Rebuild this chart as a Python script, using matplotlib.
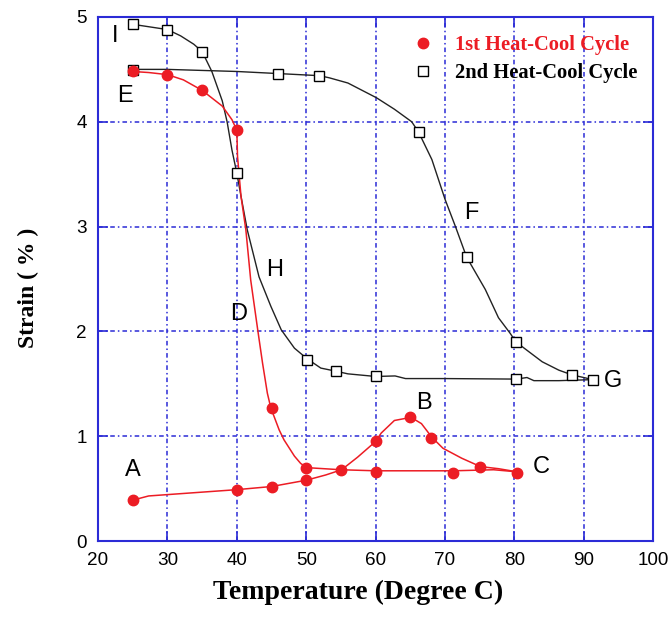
import matplotlib
matplotlib.use("Agg")
import matplotlib.pyplot as plt
from matplotlib.lines import Line2D

# ── data ──────────────────────────────────────────────────────────────────────
# 1st heat-cool cycle, measured points
heat1_T = [25, 40, 45, 50, 55, 60, 65, 68, 75, 80.4]
heat1_S = [0.39, 0.49, 0.52, 0.58, 0.68, 0.95, 1.18, 0.98, 0.71, 0.65]
cool1_T = [71.2, 60, 50, 45, 40, 35, 30, 25]
cool1_S = [0.65, 0.66, 0.70, 1.27, 3.92, 4.30, 4.45, 4.48]

# 1st cycle curve traces
heat1_curve_T = [25, 27.3, 40, 45, 50, 52.8, 55.1, 57.4, 60, 60.8, 62.7, 65.1,
                 66.6, 68.1, 69.7, 72.4, 75.1, 77.7, 80.4]
heat1_curve_S = [0.39, 0.43, 0.49, 0.52, 0.58, 0.63, 0.68, 0.80, 0.95, 1.03,
                 1.15, 1.18, 1.12, 0.99, 0.885, 0.79, 0.71, 0.69, 0.66]
cool1_curve_T = [80.4, 77, 71.2, 65, 60, 55, 50.1, 49.2, 48.3, 46.8, 46.1, 44.9,
                 44.4, 43.7, 43.0, 42.0, 41.3, 40.6, 40.1, 40.0, 39.3, 37.9,
                 35.0, 32.3, 30.0, 27.3, 25]
cool1_curve_S = [0.66, 0.68, 0.67, 0.67, 0.67, 0.68, 0.70, 0.74, 0.81, 0.965,
                 1.06, 1.27, 1.41, 1.70, 2.02, 2.49, 2.97, 3.29, 3.67, 3.92,
                 4.02, 4.15, 4.30, 4.40, 4.45, 4.47, 4.48]

# 2nd heat-cool cycle, measured points
heat2_T = [25, 46, 51.9, 66.2, 73.1, 80.2, 88.3, 91.3]
heat2_S = [4.49, 4.46, 4.44, 3.90, 2.71, 1.90, 1.585, 1.54]
cool2_T = [80.2, 60, 54.3, 50.1, 40, 35, 30, 25]
cool2_S = [1.545, 1.57, 1.62, 1.73, 3.51, 4.67, 4.88, 4.93]

# 2nd cycle curve traces
heat2_curve_T = [25, 30, 40, 46, 51.9, 53.3, 56.0, 60.1, 62.7, 65.2, 66.2, 68.1,
                 70.0, 71.5, 73.1, 75.8, 77.7, 79.4, 80.2, 84.0, 86.4, 88.3, 91.3]
heat2_curve_S = [4.50, 4.50, 4.48, 4.46, 4.44, 4.42, 4.37, 4.23, 4.12, 4.00,
                 3.90, 3.64, 3.26, 3.00, 2.71, 2.40, 2.13, 1.98, 1.90, 1.71,
                 1.63, 1.585, 1.54]
cool2_curve_T = [91.3, 86.4, 82.8, 81.8, 80.8, 80.2, 70, 64.3, 62.8, 60, 56.0,
                 54.3, 52.1, 50.1, 48.3, 46.4, 44.9, 43.2, 41.5, 40.6, 40.0,
                 39.3, 38.6, 37.9, 36.4, 35.0, 33.8, 31.9, 30.0, 25]
cool2_curve_S = [1.54, 1.53, 1.53, 1.56, 1.55, 1.545, 1.55, 1.55, 1.575, 1.57,
                 1.595, 1.62, 1.65, 1.74, 1.84, 2.015, 2.24, 2.52, 2.97, 3.29,
                 3.51, 3.73, 4.00, 4.20, 4.48, 4.67, 4.74, 4.82, 4.88, 4.93]

# point labels
lbl_text = ["I", "E", "A", "B", "C", "D", "H", "F", "G"]
lbl_T = [22.5, 23.9, 25.0, 67.0, 83.8, 40.3, 45.5, 73.8, 94.2]
lbl_S = [4.82, 4.25, 0.68, 1.32, 0.71, 2.17, 2.59, 3.13, 1.53]

# ── style ─────────────────────────────────────────────────────────────────────
RED   = "#ec1c24"
BLUE  = "#2b2bd6"
SERIF = "Liberation Serif"
SANS  = "Liberation Sans"

fig = plt.figure(figsize=(6.69, 6.22), dpi=100)
ax = fig.add_axes([0.1465, 0.1302, 0.830, 0.8425])

# grid
ax.grid(True, color=BLUE, linestyle=(0, (3, 2, 1, 2)), linewidth=1.1)
ax.set_axisbelow(True)

# curves
ax.plot(heat2_curve_T, heat2_curve_S, color="#222222", lw=1.0, zorder=3)
ax.plot(cool2_curve_T, cool2_curve_S, color="#222222", lw=1.0, zorder=3)
ax.plot(heat1_curve_T, heat1_curve_S, color=RED, lw=1.1, zorder=4)
ax.plot(cool1_curve_T, cool1_curve_S, color=RED, lw=1.1, zorder=4)

# markers
ax.plot(heat2_T, heat2_S, ls="none", marker="s", ms=7, mfc="white",
        mec="black", mew=1.0, zorder=5)
ax.plot(cool2_T, cool2_S, ls="none", marker="s", ms=7, mfc="white",
        mec="black", mew=1.0, zorder=5)
ax.plot(heat1_T, heat1_S, ls="none", marker="o", ms=7.5, color=RED, zorder=6)
ax.plot(cool1_T, cool1_S, ls="none", marker="o", ms=7.5, color=RED, zorder=6)

for t, x, y in zip(lbl_text, lbl_T, lbl_S):
    ax.text(x, y, t, fontsize=17, family=SANS, ha="center", va="center",
            color="black", zorder=7)

# axes
ax.set_xlim(20, 100)
ax.set_ylim(0, 5)
ax.set_xticks(range(20, 101, 10))
ax.set_yticks(range(0, 6))
for sp in ax.spines.values():
    sp.set_color(BLUE)
    sp.set_linewidth(1.5)
ax.tick_params(direction="in", length=7, width=1.2, color=BLUE,
               top=True, right=True, labelsize=13.6, pad=8)
for lab in ax.get_xticklabels() + ax.get_yticklabels():
    lab.set_family(SANS)

fig.text(0.535, 0.047, "Temperature (Degree C)", fontsize=20, family=SERIF,
         weight="bold", ha="center", va="center")
fig.text(0.043, 0.537, "Strain ( % )", fontsize=17, family=SERIF,
         weight="bold", ha="center", va="center", rotation=90)

# legend
handles = [
    Line2D([], [], ls="none", marker="o", ms=7.5, color=RED),
    Line2D([], [], ls="none", marker="s", ms=7, mfc="white", mec="black", mew=1.0),
]
leg = ax.legend(handles, ["1st Heat-Cool Cycle", "2nd Heat-Cool Cycle"],
                loc="upper left", bbox_to_anchor=(0.534, 1.0), frameon=False,
                handlelength=1.0, handletextpad=1.05, labelspacing=0.38,
                prop={"family": SERIF, "weight": "bold", "size": 14.8})
leg.get_texts()[0].set_color(RED)
leg.get_texts()[1].set_color("black")

fig.savefig("out.png", dpi=100)
